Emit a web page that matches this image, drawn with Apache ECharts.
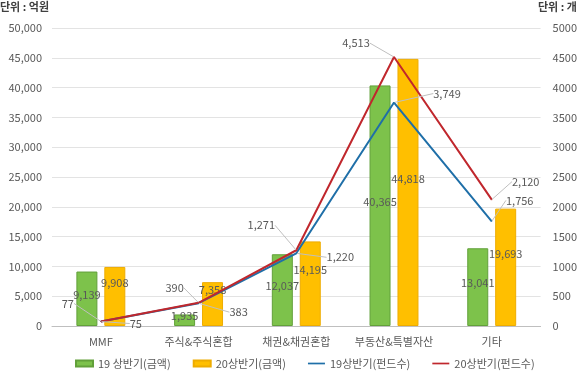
<!DOCTYPE html>
<html><head><meta charset="utf-8">
<script src="https://cdn.jsdelivr.net/npm/echarts@6/dist/echarts.min.js"></script>
<style>html,body{margin:0;padding:0;background:#fff}#c{width:580px;height:380px}</style>
</head><body><div id="c"></div>
<script>
const categories = ['MMF', '주식&주식혼합', '채권&채권혼합', '부동산&특별자산', '기타'];
const amount19 = [9139, 1935, 12037, 40365, 13041];
const amount20 = [9908, 7358, 14195, 44818, 19693];
const funds19 = [75, 383, 1220, 3749, 1756];
const funds20 = [77, 390, 1271, 4513, 2120];
const seriesNames = ['19 상반기(금액)', '20상반기(금액)', '19상반기(펀드수)', '20상반기(펀드수)'];
// label shifts (style only)
const shift19 = [[35,2],[40,9],[44,4],[53,-9],[28,-21]];
const shift20 = [[-33,-18],[-24,-15],[-35,-25],[-38,-14],[34,-18]];

const FONT = '"Noto Sans CJK KR", "Noto Sans", sans-serif';
const txt = '#595959';
const chart = echarts.init(document.getElementById('c'));
const fmt = v => v.toLocaleString('en-US');
const lineIcon = 'path://M0,0 H20 V2 H0 Z';

chart.setOption({
  animation: false,
  textStyle: {fontFamily: FONT},
  graphic: [
    {type: 'text', left: 0, top: 1, style: {text: '단위 : 억원', font: 'bold 11px ' + FONT, fill: '#404040'}},
    {type: 'text', left: 538, top: 1, style: {text: '단위 : 개', font: 'bold 11px ' + FONT, fill: '#404040'}}
  ],
  grid: {left: 52, right: 39, top: 28, bottom: 54},
  legend: {
    left: 70, bottom: 6, itemGap: 22, itemWidth: 17, itemHeight: 6,
    textStyle: {color: txt, fontSize: 11, fontFamily: FONT},
    data: [
      {name: seriesNames[0], icon: 'rect'},
      {name: seriesNames[1], icon: 'rect'},
      {name: seriesNames[2], icon: lineIcon},
      {name: seriesNames[3], icon: lineIcon}
    ]
  },
  xAxis: {
    type: 'category', data: categories,
    axisTick: {show: false},
    axisLine: {lineStyle: {color: '#bfbfbf'}},
    axisLabel: {color: txt, fontSize: 11, margin: 10, interval: 0}
  },
  yAxis: [
    {type: 'value', min: 0, max: 50000, interval: 5000,
     axisLabel: {color: txt, fontSize: 11, formatter: v => fmt(v), margin: 10},
     splitLine: {lineStyle: {color: '#e3e3e3'}}, axisLine: {show: false}, axisTick: {show: false}},
    {type: 'value', min: 0, max: 5000, interval: 500,
     axisLabel: {color: txt, fontSize: 11, margin: 12, formatter: v => String(v)},
     splitLine: {show: false}, axisLine: {show: false}, axisTick: {show: false}}
  ],
  series: [
    {name: seriesNames[0], type: 'bar', data: amount19, barWidth: 21, barGap: '33%',
     itemStyle: {color: '#7dc24b', borderColor: '#62a03a', borderWidth: 1},
     label: {show: true, position: 'inside', offset: [0, -4], color: txt, fontSize: 11, formatter: p => fmt(p.value)}},
    {name: seriesNames[1], type: 'bar', data: amount20, barWidth: 21,
     itemStyle: {color: '#ffbf00', borderColor: '#eeac00', borderWidth: 1},
     label: {show: true, position: 'inside', offset: [0, -14], color: txt, fontSize: 11, formatter: p => fmt(p.value)}},
    {name: seriesNames[2], type: 'line', yAxisIndex: 1, data: funds19,
     symbol: 'circle', symbolSize: 1, lineStyle: {color: '#1f6fa8', width: 2}, itemStyle: {color: '#1f6fa8'},
     label: {show: true, position: 'inside', color: txt, fontSize: 11, formatter: p => fmt(p.value)},
     labelLine: {show: true, lineStyle: {color: '#bfbfbf', width: 1}},
     labelLayout: p => ({dx: shift19[p.dataIndex][0], dy: shift19[p.dataIndex][1]})},
    {name: seriesNames[3], type: 'line', yAxisIndex: 1, data: funds20,
     symbol: 'circle', symbolSize: 1, lineStyle: {color: '#c0272d', width: 2}, itemStyle: {color: '#c0272d'},
     label: {show: true, position: 'inside', color: txt, fontSize: 11, formatter: p => fmt(p.value)},
     labelLine: {show: true, lineStyle: {color: '#bfbfbf', width: 1}},
     labelLayout: p => ({dx: shift20[p.dataIndex][0], dy: shift20[p.dataIndex][1]})}
  ]
});
</script></body></html>
